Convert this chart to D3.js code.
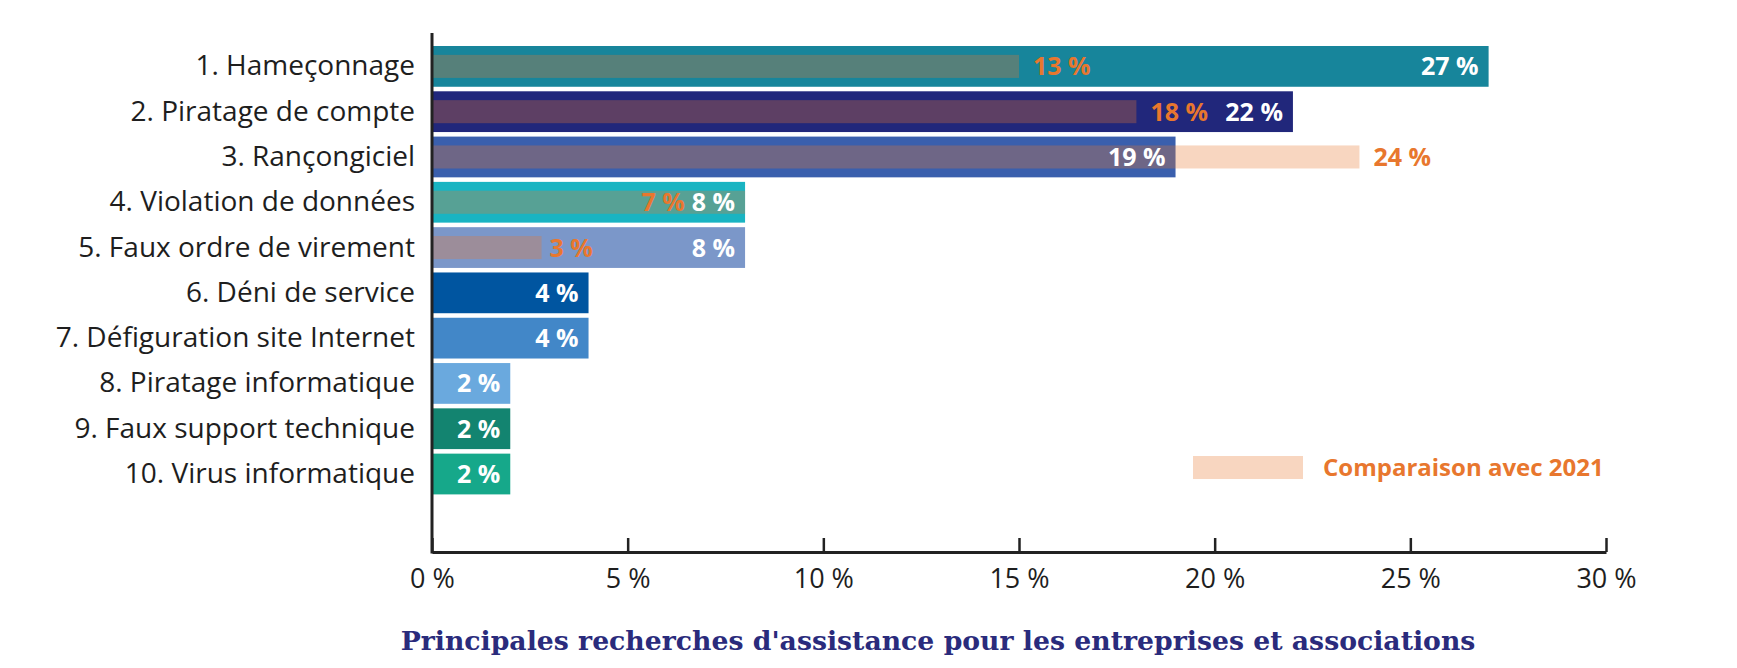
<!DOCTYPE html>
<html>
<head>
<meta charset="utf-8">
<script src="https://cdn.jsdelivr.net/npm/d3@7"></script>
<style>
  body { margin: 0; background: #fff; }
  svg { display: block; }
  .cat-label { font-family: "Open Sans", sans-serif; font-size: 28px; fill: #1e1e1e; }
  .tick-label { font-family: "Open Sans", sans-serif; font-size: 27px; fill: #1e1e1e; }
  .value-label { font-family: "Open Sans", sans-serif; font-size: 25px; font-weight: 700; }
  .title { font-family: "DejaVu Serif", serif; font-size: 26.7px; font-weight: 700; fill: #2a2b7c; }
</style>
</head>
<body>
<div id="wrapper"></div>
<script>
// data
const categories = [
  "1. Hameçonnage",
  "2. Piratage de compte",
  "3. Rançongiciel",
  "4. Violation de données",
  "5. Faux ordre de virement",
  "6. Déni de service",
  "7. Défiguration site Internet",
  "8. Piratage informatique",
  "9. Faux support technique",
  "10. Virus informatique",
];
const values2022 = [27, 22, 19, 8, 8, 4, 4, 2, 2, 2];
const barColors = [
  "#17859b", "#21277b", "#3a5fad", "#19b4c2", "#7b97c9",
  "#0055a0", "#4287c8", "#6aa9de", "#138470", "#16a88a",
];
// 2021 comparison: printed values and drawn bar length (as read on the picture)
const values2021 = [13, 18, 24, 7, 3];
const bars2021 = [15, 18, 23.7, 8, 2.8];
const xTicks = [0, 5, 10, 15, 20, 25, 30];
const legendLabel = "Comparaison avec 2021";
const titleText = "Principales recherches d'assistance pour les entreprises et associations";

const orange = "#e8772e";
const fmt = d => d + "\u00a0%";

// dimensions
let dimensions = {
  width: 1737,
  height: 668,
  margin: { top: 46, right: 131, bottom: 116, left: 432 },
};
dimensions.boundedWidth = dimensions.width - dimensions.margin.left - dimensions.margin.right;
dimensions.axisY = 552;

const svg = d3.select("#wrapper")
  .append("svg")
  .attr("width", dimensions.width)
  .attr("height", dimensions.height);

// scales
const xScale = d3.scaleLinear()
  .domain([0, 30])
  .range([dimensions.margin.left, dimensions.margin.left + dimensions.boundedWidth]);

const yScale = d3.scaleBand()
  .domain(categories)
  .range([dimensions.margin.top, 494.4])
  .paddingInner(0.1);

const bw = yScale.bandwidth();
const overlayH = bw * 0.565;

// bars 2022
svg.append("g")
  .selectAll("rect")
  .data(categories)
  .join("rect")
    .attr("x", xScale(0))
    .attr("y", d => yScale(d))
    .attr("width", (d, i) => xScale(values2022[i]) - xScale(0))
    .attr("height", bw)
    .attr("fill", (d, i) => barColors[i]);

// 2021 overlay
svg.append("g")
  .selectAll("rect")
  .data(bars2021)
  .join("rect")
    .attr("x", xScale(0))
    .attr("y", (d, i) => yScale(categories[i]) + (bw - overlayH) / 2)
    .attr("width", d => xScale(d) - xScale(0))
    .attr("height", overlayH)
    .attr("fill", orange)
    .attr("fill-opacity", 0.3);

// white value labels
const whiteLabels = svg.append("g")
  .selectAll("text")
  .data(values2022)
  .join("text")
    .attr("class", "value-label")
    .attr("x", d => xScale(d) - 10)
    .attr("y", (d, i) => yScale(categories[i]) + bw / 2)
    .attr("dy", "0.36em")
    .attr("text-anchor", "end")
    .attr("fill", "#fff")
    .text(fmt);

const whiteWidths = whiteLabels.nodes().map(n => n.getComputedTextLength());

// orange 2021 labels
svg.append("g")
  .selectAll("text")
  .data(values2021)
  .join("text")
    .attr("class", "value-label")
    .attr("y", (d, i) => yScale(categories[i]) + bw / 2)
    .attr("dy", "0.36em")
    .attr("fill", orange)
    .each(function (d, i) {
      const el = d3.select(this);
      const end = xScale(bars2021[i]);
      const whiteStart = xScale(values2022[i]) - 10 - whiteWidths[i];
      if (Math.abs(bars2021[i] - values2022[i]) < 0.5) {
        // overlay reaches the bar end: sit just left of the 2022 label
        el.attr("x", whiteStart - 7).attr("text-anchor", "end");
      } else {
        el.attr("x", end + (bars2021[i] < 5 ? 8 : 14)).attr("text-anchor", "start");
      }
    })
    .text(fmt);

// category labels
const yAxis = svg.append("g")
  .attr("transform", `translate(${dimensions.margin.left},0)`)
  .call(d3.axisLeft(yScale).tickSize(0).tickPadding(17));
yAxis.select(".domain").remove();
yAxis.selectAll("text")
  .attr("class", "cat-label")
  .attr("font-size", null)
  .attr("font-family", null);

// x axis
const xAxis = svg.append("g")
  .attr("transform", `translate(0,${dimensions.axisY})`)
  .call(d3.axisBottom(xScale)
    .tickValues(xTicks)
    .tickFormat(fmt)
    .tickSizeInner(-14)
    .tickSizeOuter(0)
    .tickPadding(17));
xAxis.select(".domain").attr("stroke", "#222").attr("stroke-width", 3);
xAxis.selectAll(".tick line").attr("stroke", "#222").attr("stroke-width", 2.5);
xAxis.selectAll(".tick text")
  .attr("class", "tick-label")
  .attr("font-size", null)
  .attr("font-family", null);

// vertical axis line
svg.append("line")
  .attr("x1", xScale(0))
  .attr("x2", xScale(0))
  .attr("y1", 33)
  .attr("y2", dimensions.axisY + 1.5)
  .attr("stroke", "#222")
  .attr("stroke-width", 3);

// legend
const legend = svg.append("g");
legend.append("rect")
  .attr("x", 1193)
  .attr("y", 456)
  .attr("width", 110)
  .attr("height", overlayH)
  .attr("fill", orange)
  .attr("fill-opacity", 0.3);
legend.append("text")
  .attr("class", "value-label")
  .attr("x", 1323)
  .attr("y", 456 + overlayH / 2)
  .attr("dy", "0.36em")
  .attr("fill", orange)
  .style("font-size", "24px")
  .text(legendLabel);

// title
svg.append("text")
  .attr("class", "title")
  .attr("x", 938)
  .attr("y", 640)
  .attr("dy", "0.36em")
  .attr("text-anchor", "middle")
  .text(titleText);
</script>
</body>
</html>
